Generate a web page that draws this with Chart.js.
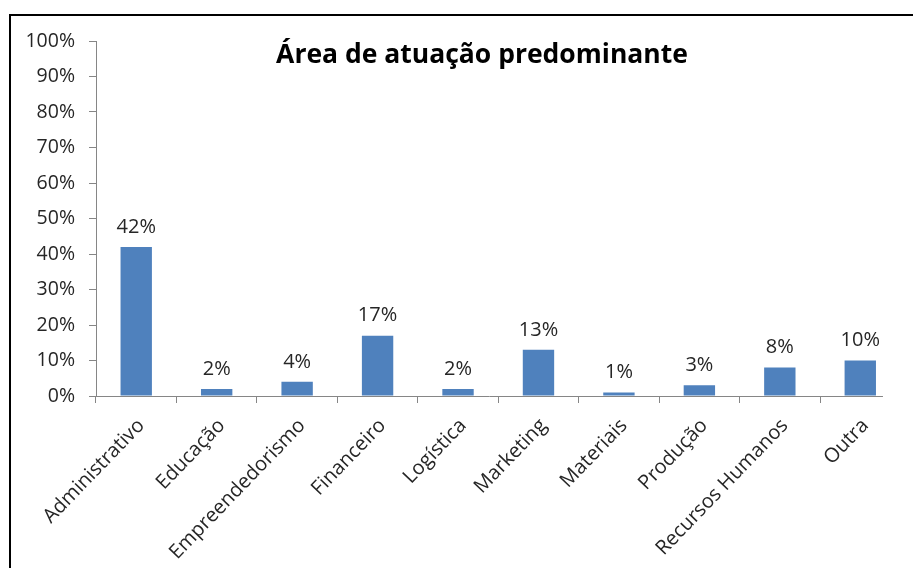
<!DOCTYPE html>
<html>
<head>
<meta charset="utf-8">
<script src="https://cdn.jsdelivr.net/npm/chart.js@4"></script>
<style>
    body { margin: 0; background: #fff; overflow: hidden; }
    #wrap { position: relative; width: 913px; height: 568px; }
    #frame { position: absolute; left: 9px; top: 14px; width: 1000px; height: 1000px; border: 2px solid #000; box-sizing: border-box; pointer-events: none; }
</style>
</head>
<body>
<div id="wrap">
    <canvas id="chart" width="913" height="568"></canvas>
    <div id="frame"></div>
</div>
<script>
// Data
const CATEGORIES = ["Administrativo", "Educação", "Empreendedorismo", "Financeiro", "Logística", "Marketing", "Materiais", "Produção", "Recursos Humanos", "Outra"];
const SHARES = [42, 2, 4, 17, 2, 13, 1, 3, 8, 10]; // percent
const CHART_TITLE = "Área de atuação predominante";

const FONT = "'Open Sans', Lato, sans-serif";
const TEXT_COLOR = "#262626";
const AXIS_COLOR = "#868686";

// Draws the percent label above each bar
const valueLabels = {
    id: 'valueLabels',
    afterDatasetsDraw(chart) {
        const ctx = chart.ctx;
        const meta = chart.getDatasetMeta(0);
        ctx.save();
        ctx.font = "20px " + FONT;
        ctx.fillStyle = TEXT_COLOR;
        ctx.textAlign = 'center';
        ctx.textBaseline = 'bottom';
        meta.data.forEach((bar, i) => {
            ctx.fillText(SHARES[i] + '%', bar.x, bar.y - 10);
        });
        ctx.restore();
    }
};

// The original x axis line stops just past the last bar
const shortAxisLine = {
    id: 'shortAxisLine',
    afterDraw(chart) {
        const ctx = chart.ctx;
        const area = chart.chartArea;
        const bars = chart.getDatasetMeta(0).data;
        const last = bars[bars.length - 1];
        ctx.save();
        ctx.strokeStyle = AXIS_COLOR;
        ctx.lineWidth = 1;
        ctx.beginPath();
        ctx.moveTo(area.left, Math.round(area.bottom) + 0.5);
        ctx.lineTo(last.x + last.width / 2 + 7, Math.round(area.bottom) + 0.5);
        ctx.stroke();
        ctx.restore();
    }
};

// Title sits inside the plot area, as in the original
const titleInside = {
    id: 'titleInside',
    afterDraw(chart) {
        const ctx = chart.ctx;
        ctx.save();
        ctx.font = "bold 26.5px " + FONT;
        ctx.fillStyle = "#000";
        ctx.textAlign = 'center';
        ctx.textBaseline = 'middle';
        ctx.fillText(CHART_TITLE, 482, 55);
        ctx.restore();
    }
};

const ctx = document.getElementById('chart').getContext('2d');
new Chart(ctx, {
    type: 'bar',
    data: {
        labels: CATEGORIES,
        datasets: [{
            data: SHARES,
            backgroundColor: '#4F81BD',
            borderWidth: 0,
            categoryPercentage: 1,
            barPercentage: 0.39
        }]
    },
    options: {
        responsive: false,
        animation: false,
        layout: { padding: { top: 41, right: 12.5, left: 0, bottom: 0 } },
        plugins: {
            legend: { display: false },
            title: { display: false },
            tooltip: { enabled: false }
        },
        scales: {
            y: {
                min: 0,
                max: 100,
                ticks: {
                    stepSize: 10,
                    padding: 14,
                    color: TEXT_COLOR,
                    font: { family: FONT, size: 19.5 },
                    callback: v => v + '%'
                },
                grid: { drawOnChartArea: false, drawTicks: true, tickLength: 7, color: AXIS_COLOR },
                border: { color: AXIS_COLOR },
                afterFit(scale) { scale.width = 96; }
            },
            x: {
                offset: true,
                ticks: {
                    minRotation: 46,
                    maxRotation: 46,
                    autoSkip: false,
                    padding: 11,
                    labelOffset: 5,
                    color: TEXT_COLOR,
                    font: { family: FONT, size: 20 }
                },
                grid: {
                    offset: true,
                    drawOnChartArea: false,
                    drawTicks: true,
                    tickLength: 7,
                    color: AXIS_COLOR,
                    // no tick mark at the far right end (that one gets the scale context)
                    tickColor: c => c.type === 'tick' ? AXIS_COLOR : 'rgba(0,0,0,0)'
                },
                border: { display: false },
                afterFit(scale) { scale.height = 172; }
            }
        }
    },
    plugins: [valueLabels, shortAxisLine, titleInside]
});
</script>
</body>
</html>
